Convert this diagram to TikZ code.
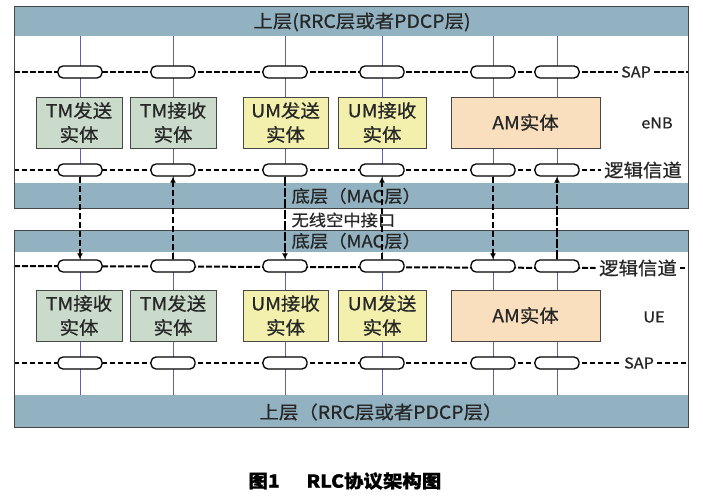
\documentclass[tikz,border=0pt]{standalone}
\usepackage{fontspec}
\newfontfamily\cjk[FakeStretch=1.08, FakeBold=0.7]{Noto Sans CJK SC}
\usetikzlibrary{arrows.meta, positioning, backgrounds}
\definecolor{bandblue}{RGB}{146,178,194}
\definecolor{tmgreen}{RGB}{203,219,203}
\definecolor{umyellow}{RGB}{242,240,172}
\definecolor{ampeach}{RGB}{250,223,190}
\definecolor{vblue}{RGB}{96,96,184}
\definecolor{edgegray}{RGB}{70,70,70}

\begin{document}
\begin{tikzpicture}[x=1pt, y=-1pt,
    every node/.style={font=\cjk\fontsize{18}{20}\selectfont, text=black!85},
    band/.style={fill=bandblue, inner sep=0, minimum width=674pt, anchor=north west},
    panel/.style={draw=edgegray, line width=1.4pt, inner sep=0, minimum width=674pt,
        anchor=north west},
    entity/.style={draw=edgegray, line width=0.9pt, minimum height=51pt, align=center,
        font=\cjk\fontsize{18}{24}\selectfont, inner sep=0},
    tm/.style={entity, fill=tmgreen, minimum width=86pt},
    um/.style={entity, fill=umyellow, minimum width=86pt},
    am/.style={entity, fill=ampeach, minimum width=149pt},
    pill/.style={draw=black, line width=1.3pt, fill=white, rounded corners=5pt,
        minimum width=44pt, minimum height=12pt, inner sep=0},
    sapline/.style={line width=2pt, dash pattern=on 6pt off 2pt},
    chanline/.style={line width=1.2pt, dash pattern=on 5pt off 3pt},
    vline/.style={draw=vblue, line width=1pt},
    lbl/.style={font=\cjk\fontsize{15}{18}\selectfont},
    caption/.style={font=\cjk\bfseries\fontsize{18}{20}\selectfont, text=black, anchor=west},
    link/.style={-{Latex[length=6pt,width=6pt]}, line width=1.5pt, dash pattern=on 6pt off 3pt},
    heavy/.style={line width=2.6pt, dash pattern=on 9pt off 2pt}]

    \useasboundingbox (0,0) rectangle (703,500);

    % bands and frames
    \node[band, minimum height=29pt] (upT) at (14,7) {};
    \node[band, minimum height=25pt] (macT) at (14,183) {};
    \node[band, minimum height=21pt] (macB) at (14,231) {};
    \node[band, minimum height=32pt] (upB) at (14,395) {};
    \node[panel, minimum height=202pt] (enb) at (14,6) {};
    \node[panel, minimum height=197pt] (ue) at (14,230) {};

    \node (upTt) at (362,22) {上层(RRC层或者PDCP层)};
    \node (upBt) at (381,412) {上层（RRC层或者PDCP层）};
    \node[anchor=west, font=\cjk\fontsize{17}{18}\selectfont] (macTt) at (288,196) {底层（MAC层）};
    \node[anchor=west, font=\cjk\fontsize{16}{18}\selectfont] (air) at (288,220) {无线空中接口};
    \node[anchor=west, font=\cjk\fontsize{17}{18}\selectfont] (macBt) at (288,241) {底层（MAC层）};

    \foreach \x [count=\i] in {80,173,285,382,493,557} {
        \node[pill] (sT\i) at (\x,72) {};
        \node[pill] (lT\i) at (\x,170) {};
        \node[pill] (lB\i) at (\x,266) {};
        \node[pill] (sB\i) at (\x,363) {};
    }

    \node[tm] (tmtxT) at (79,122.5) {TM发送\\实体};
    \node[tm] (tmrxT) at (173,122.5) {TM接收\\实体};
    \node[um, minimum width=85pt] (umtxT) at (285.5,122.5) {UM发送\\实体};
    \node[um, minimum width=88pt] (umrxT) at (382,122.5) {UM接收\\实体};
    \node[am] (amT) at (525.5,122.5) {AM实体};

    \node[tm] (tmrxB) at (79,315.5) {TM接收\\实体};
    \node[tm] (tmtxB) at (173,315.5) {TM发送\\实体};
    \node[um, minimum width=85pt] (umrxB) at (285.5,315.5) {UM接收\\实体};
    \node[um, minimum width=88pt] (umtxB) at (382,315.5) {UM发送\\实体};
    \node[am] (amB) at (525.5,315.5) {AM实体};

    \node[lbl] (sapT) at (636,72) {SAP};
    \node[lbl] (enbl) at (657,123) {eNB};
    \node (chT) at (643,170) {逻辑信道};
    \node (chB) at (638,268) {逻辑信道};
    \node[lbl] (uel) at (654,317) {UE};
    \node[lbl] (sapB) at (639,363) {SAP};

    \node[caption] (fignum) at (245,481) {图1};
    \node[caption] (figtitle) at (303,481) {RLC协议架构图};

    \begin{scope}[on background layer]
        \fill[white] (0,0) rectangle (703,500);
        \foreach \i in {1,...,6} {
            \draw[vline] (sT\i |- upT.south) -- (lT\i |- macT.north);
            \draw[vline] (lB\i |- macB.south) -- (sB\i |- upB.north);
        }
        \draw[sapline] (enb.west |- sT1) -- (sapT.west);
        \draw[sapline] (sapT.east) -- (enb.east |- sapT);
        \draw[chanline] (enb.west |- lT1) -- (chT.west);
        \draw[sapline] (ue.west |- lB1) -- (chB.west);
        \draw[chanline] (chB.east) -- (ue.east |- chB);
        \draw[chanline] (ue.west |- sB1) -- (sapB.west);
        \draw[chanline] (sapB.east) -- (ue.east |- sapB);
    \end{scope}

    % air interface
    \draw[link] (lT1.south) -- (lB1.north);
    \draw[link, line width=1.3pt] (lB2.north) -- (lT2.south);
    \draw[link, heavy] (lT3.south) -- (lB3.north);
    \draw[link, line width=1.2pt] (lB4.north) -- (lT4.south);
    \draw[link] (lT5.south) -- (lB5.north);
    \draw[link, heavy] (lB6.north) -- (lT6.south);
\end{tikzpicture}
\end{document}
